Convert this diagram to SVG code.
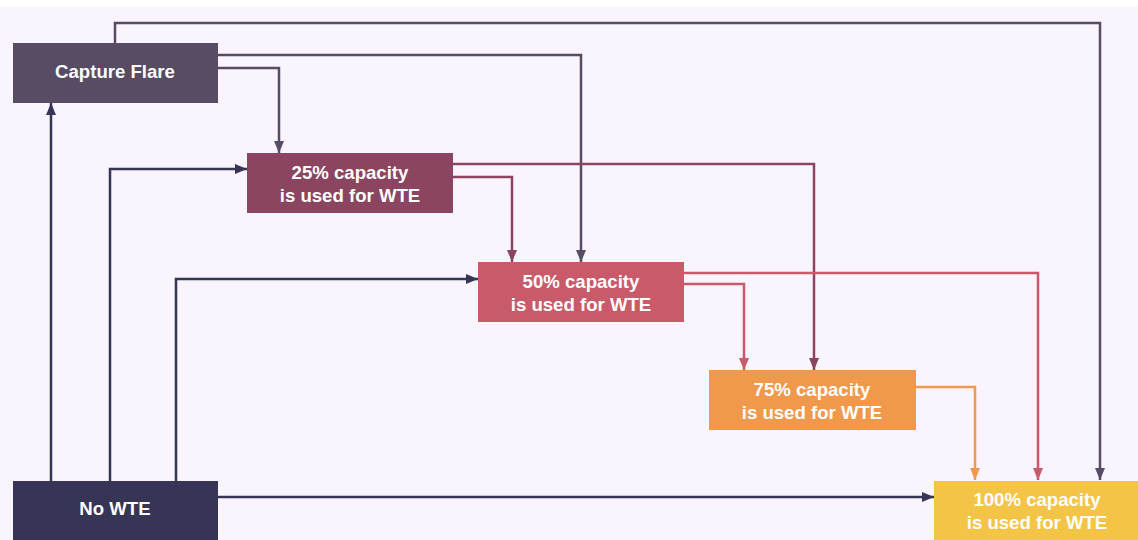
<svg xmlns="http://www.w3.org/2000/svg" width="1138" height="540" viewBox="0 0 1138 540">
<style>
.lbl{font-family:"Liberation Sans",Arial,sans-serif;font-weight:bold;font-size:18.6px;fill:#ffffff;text-anchor:middle}
.c{fill:none;stroke-width:2.5}
.cf{stroke:#574c63}
.nw{stroke:#363556}
.p25{stroke:#8b4560}
.p50{stroke:#c85a6a}
.p75{stroke:#f0984b}
</style>
<defs>
<marker id="acf" markerUnits="userSpaceOnUse" markerWidth="12" markerHeight="12" viewBox="0 0 12 12" refX="12" refY="6" orient="auto"><path d="M0,1 L12,6 L0,11 Z" fill="#574c63"/></marker>
<marker id="anw" markerUnits="userSpaceOnUse" markerWidth="12" markerHeight="12" viewBox="0 0 12 12" refX="12" refY="6" orient="auto"><path d="M0,1 L12,6 L0,11 Z" fill="#363556"/></marker>
<marker id="a25" markerUnits="userSpaceOnUse" markerWidth="12" markerHeight="12" viewBox="0 0 12 12" refX="12" refY="6" orient="auto"><path d="M0,1 L12,6 L0,11 Z" fill="#8b4560"/></marker>
<marker id="a50" markerUnits="userSpaceOnUse" markerWidth="12" markerHeight="12" viewBox="0 0 12 12" refX="12" refY="6" orient="auto"><path d="M0,1 L12,6 L0,11 Z" fill="#c85a6a"/></marker>
<marker id="a75" markerUnits="userSpaceOnUse" markerWidth="12" markerHeight="12" viewBox="0 0 12 12" refX="12" refY="6" orient="auto"><path d="M0,1 L12,6 L0,11 Z" fill="#f0984b"/></marker>
</defs>
<rect x="0" y="0" width="1138" height="540" fill="#ffffff"/>
<rect x="0" y="7" width="1138" height="533" fill="#f9f4fd"/>
<g id="connectors">
<path class="c cf" d="M115,43 V23 H1100 V480" marker-end="url(#acf)"/>
<path class="c cf" d="M218,55 H581 V262" marker-end="url(#acf)"/>
<path class="c cf" d="M218,68 H279 V153" marker-end="url(#acf)"/>
<path class="c nw" d="M51,481 V103" marker-end="url(#anw)"/>
<path class="c nw" d="M110,481 V169 H247" marker-end="url(#anw)"/>
<path class="c nw" d="M176,481 V279 H478" marker-end="url(#anw)"/>
<path class="c nw" d="M218,497 H934" marker-end="url(#anw)"/>
<path class="c p25" d="M453,164 H814 V370" marker-end="url(#a25)"/>
<path class="c p25" d="M453,177 H512 V262" marker-end="url(#a25)"/>
<path class="c p50" d="M684,273 H1038 V480" marker-end="url(#a50)"/>
<path class="c p50" d="M684,284 H744 V370" marker-end="url(#a50)"/>
<path class="c p75" d="M916,387 H975 V480" marker-end="url(#a75)"/>
</g>
<g id="capture-flare">
<rect x="13" y="43" width="205" height="60" fill="#574c63"/>
<text class="lbl" x="115" y="78">Capture Flare</text>
</g>
<g id="cap25">
<rect x="247" y="153" width="206" height="60" fill="#8b4560"/>
<text class="lbl" x="350" y="179">25% capacity</text>
<text class="lbl" x="350" y="202">is used for WTE</text>
</g>
<g id="cap50">
<rect x="478" y="262" width="206" height="60" fill="#c85a6a"/>
<text class="lbl" x="581" y="288">50% capacity</text>
<text class="lbl" x="581" y="311">is used for WTE</text>
</g>
<g id="cap75">
<rect x="709" y="370" width="207" height="60" fill="#f0984b"/>
<text class="lbl" x="812" y="396">75% capacity</text>
<text class="lbl" x="812" y="419">is used for WTE</text>
</g>
<g id="cap100">
<rect x="934" y="481" width="210" height="62" fill="#f4c446"/>
<text class="lbl" x="1037" y="506">100% capacity</text>
<text class="lbl" x="1037" y="529">is used for WTE</text>
</g>
<g id="no-wte">
<rect x="13" y="481" width="205" height="62" fill="#363556"/>
<text class="lbl" x="115" y="515">No WTE</text>
</g>
</svg>
